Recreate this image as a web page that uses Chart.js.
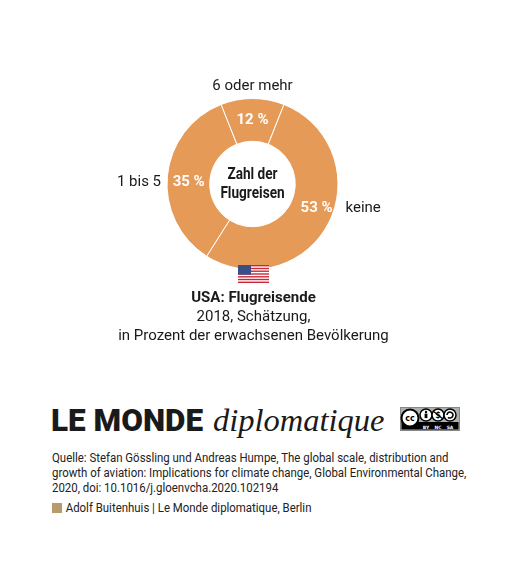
<!DOCTYPE html>
<html lang="de">
<head>
<meta charset="utf-8">
<script src="https://cdn.jsdelivr.net/npm/chart.js@4.4.1/dist/chart.umd.min.js"></script>
<style>
  html, body { margin: 0; padding: 0; background: #fff; }
  body { width: 507px; height: 565px; position: relative; overflow: hidden;
         font-family: Roboto, "Open Sans", sans-serif; color: #1a1a1a; }
  #chart-box { position: absolute; left: 0; top: 0; width: 507px; height: 290px; }
  #flag { position: absolute; left: 238px; top: 265px; }
  .sub { position: absolute; left: 0; width: 507px; text-align: center; font-size: 15px; line-height: 19px; }
  #logo { position: absolute; left: 51px; top: 402px; white-space: nowrap; }
  #logo .le { font-family: Roboto, sans-serif; font-weight: 900; font-size: 31.5px; }
  #logo .dip { font-family: "Liberation Serif", "DejaVu Serif", serif; font-style: italic; font-size: 32.5px; margin-left: 10px; }
  #cc { position: absolute; left: 400px; top: 407px; }
  .small { position: absolute; left: 52px; font-size: 12.5px; line-height: 15px; color: #222;
           white-space: nowrap; transform: scaleX(0.914); transform-origin: left top; }
  #source { top: 450px; }
  #credit { top: 500px; }
  #credit .sq { display: inline-block; width: 11px; height: 10px; background: #b89b6c; margin-right: 4px; vertical-align: -1px; }
</style>
</head>
<body>
<div id="chart-box"><canvas id="donut" width="507" height="290"></canvas></div>

<svg id="flag" width="31" height="18" viewBox="0 0 31 18">
  <rect width="31" height="18" fill="#fff"/>
  <g fill="#c8283a">
    <rect y="0" width="31" height="1.4"/><rect y="2.8" width="31" height="1.4"/>
    <rect y="5.5" width="31" height="1.4"/><rect y="8.3" width="31" height="1.4"/>
    <rect y="11.1" width="31" height="1.4"/><rect y="13.8" width="31" height="1.4"/>
    <rect y="16.6" width="31" height="1.4"/>
  </g>
  <rect width="13" height="9.7" fill="#3a4f86"/>
</svg>

<div class="sub" style="top:288px;font-weight:700;">USA: Flugreisende</div>
<div class="sub" style="top:307px;">2018, Schätzung,</div>
<div class="sub" style="top:326px;">in Prozent der erwachsenen Bevölkerung</div>

<div id="logo"><span class="le">LE MONDE</span><span class="dip">diplomatique</span></div>

<svg id="cc" width="60" height="24" viewBox="0 0 60 24">
  <rect x="0.5" y="0.5" width="59" height="23" fill="#aab2ab" stroke="#888"/>
  <rect x="1.5" y="15" width="57" height="7.5" fill="#000"/>
  <rect x="1.5" y="1.5" width="57" height="13.5" fill="#aab2ab"/>
  <circle cx="10" cy="11" r="8.5" fill="#fff" stroke="#000" stroke-width="2"/>
  <text x="10" y="14" font-family="DejaVu Sans" font-weight="bold" font-size="8" text-anchor="middle">cc</text>
  <circle cx="26" cy="8" r="6" fill="#fff" stroke="#000" stroke-width="1.5"/>
  <circle cx="26" cy="5" r="1.2" fill="#000"/>
  <rect x="24.6" y="6.6" width="2.8" height="4.5" fill="#000"/>
  <circle cx="38" cy="8" r="6" fill="#fff" stroke="#000" stroke-width="1.5"/>
  <text x="38" y="11" font-family="DejaVu Sans" font-weight="bold" font-size="8" text-anchor="middle">$</text>
  <line x1="33" y1="4" x2="43" y2="12" stroke="#000" stroke-width="1.2"/>
  <circle cx="50" cy="8" r="6" fill="#fff" stroke="#000" stroke-width="1.5"/>
  <path d="M47 8 a3 3 0 1 1 1 2.3" fill="none" stroke="#000" stroke-width="1.6"/>
  <text x="26" y="21.5" fill="#fff" font-family="DejaVu Sans" font-weight="bold" font-size="4.5" text-anchor="middle">BY</text>
  <text x="38" y="21.5" fill="#fff" font-family="DejaVu Sans" font-weight="bold" font-size="4.5" text-anchor="middle">NC</text>
  <text x="50" y="21.5" fill="#fff" font-family="DejaVu Sans" font-weight="bold" font-size="4.5" text-anchor="middle">SA</text>
</svg>

<div id="source" class="small">Quelle: Stefan Gössling und Andreas Humpe, The global scale, distribution and<br>growth of aviation: Implications for climate change, Global Environmental Change,<br>2020, doi: 10.1016/j.gloenvcha.2020.102194</div>
<div id="credit" class="small"><span class="sq"></span>Adolf Buitenhuis | Le Monde diplomatique, Berlin</div>

<script>
// ===============================
// Data
// ===============================
const categories = ["6 oder mehr", "keine", "1 bis 5"];
const shares = [12, 53, 35];
const centerLines = ["Zahl der", "Flugreisen"];

const sliceColor = "#e69a58";
const labelFont = "Roboto, sans-serif";

// ===============================
// Label Plugin (percent + category)
// ===============================
const sliceLabels = {
	id: "sliceLabels",
	afterDatasetsDraw(chart) {
		const ctx = chart.ctx;
		const meta = chart.getDatasetMeta(0);
		ctx.save();
		ctx.textBaseline = "middle";
		meta.data.forEach((arc, i) => {
			const { x, y, outerRadius, innerRadius, startAngle, endAngle } = arc.getProps(
				["x", "y", "outerRadius", "innerRadius", "startAngle", "endAngle"], true);
			const mid = (startAngle + endAngle) / 2;
			const r = (outerRadius + innerRadius) / 2;
			let px = x + Math.cos(mid) * r;
			let py = y + Math.sin(mid) * r;
			// small manual nudges as in the original layout
			if (i === 1) { px += 7; py -= 5; }
			if (i === 2) { px += 0; py += 4; }

			ctx.font = "700 15px " + labelFont;
			ctx.fillStyle = "#ffffff";
			ctx.textAlign = "center";
			ctx.fillText(shares[i] + " %", px, py);

			ctx.font = "400 15px " + labelFont;
			ctx.fillStyle = "#1a1a1a";
			if (Math.abs(Math.sin(mid)) > 0.7 && Math.sin(mid) < 0) {
				ctx.textAlign = "center";
				ctx.fillText(categories[i], x, y - outerRadius - 12);
			} else {
				const dy = py - y;
				const half = Math.sqrt(outerRadius * outerRadius - dy * dy);
				if (Math.cos(mid) > 0) {
					ctx.textAlign = "left";
					ctx.fillText(categories[i], x + half + 11, py);
				} else {
					ctx.textAlign = "right";
					ctx.fillText(categories[i], x - half - 6, py);
				}
			}
		});

		// centre title, squeezed a bit to look like the condensed original
		const c = meta.data[0];
		ctx.font = "700 16px " + labelFont;
		ctx.fillStyle = "#1a1a1a";
		ctx.textAlign = "center";
		ctx.translate(c.x, c.y);
		ctx.scale(0.85, 1);
		ctx.fillText(centerLines[0], 0, -9);
		ctx.fillText(centerLines[1], 0, 10);
		ctx.restore();
	}
};

// ===============================
// Chart
// ===============================
new Chart(document.getElementById("donut"), {
	type: "doughnut",
	data: {
		labels: categories,
		datasets: [{
			data: shares,
			backgroundColor: sliceColor,
			borderColor: "#ffffff",
			borderWidth: 1,
			hoverOffset: 0
		}]
	},
	options: {
		responsive: false,
		animation: false,
		cutout: "50%",
		rotation: -21.6,
		layout: { padding: { top: 98, bottom: 20, left: 80, right: 82 } },
		plugins: {
			legend: { display: false },
			tooltip: { enabled: false }
		}
	},
	plugins: [sliceLabels]
});
</script>
</body>
</html>
